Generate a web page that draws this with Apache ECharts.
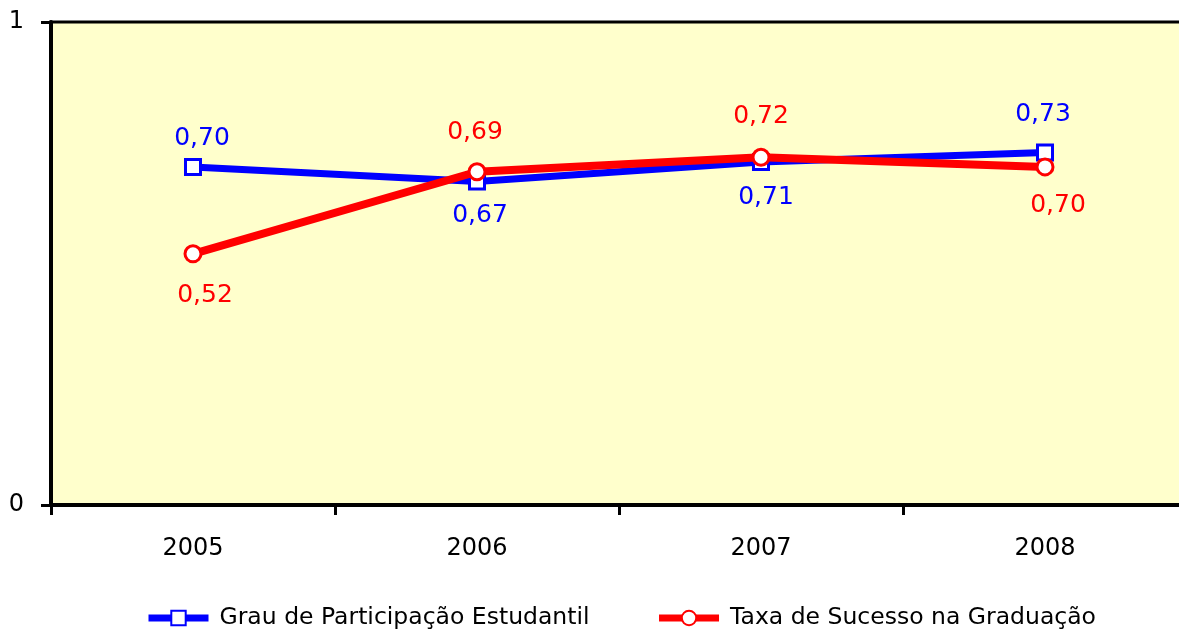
<!DOCTYPE html>
<html><head><meta charset="utf-8">
<script src="https://cdn.jsdelivr.net/npm/echarts@6/dist/echarts.min.js"></script>
<style>html,body{margin:0;padding:0;background:#fff;overflow:hidden;width:1179px;height:631px}#c{width:1195px;height:631px}</style>
</head><body><div id="c"></div>
<script>
const categories = ['2005', '2006', '2007', '2008'];
const seriesNames = ['Grau de Participação Estudantil', 'Taxa de Sucesso na Graduação'];
const grauValues = [0.70, 0.67, 0.71, 0.73];
const taxaValues = [0.52, 0.69, 0.72, 0.70];
const grauLabelPos = ['top', 'bottom', 'bottom', 'top'];
const taxaLabelPos = ['bottom', 'top', 'top', 'bottom'];

const fmt = v => v.toFixed(2).replace('.', ',');
const FONT = 'DejaVu Sans';

function mk(vals, pos, dist, dx) {
  return vals.map((v, i) => ({
    value: v,
    label: { position: pos[i], distance: dist[i], offset: [dx[i], 0] }
  }));
}

const chart = echarts.init(document.getElementById('c'));
chart.setOption({
  animation: false,
  grid: { left: 51, right: 8, top: 22, bottom: 126, show: true, backgroundColor: '#FFFFCC', borderColor: '#000', borderWidth: 3 },
  legend: {
    top: 601, left: 140, itemGap: 66, itemWidth: 60, itemHeight: 18,
    textStyle: { fontFamily: FONT, fontSize: 23.5, color: '#000', padding: [0, 0, 0, 6] },
    lineStyle: { width: 7 },
    data: seriesNames
  },
  xAxis: {
    type: 'category', data: categories, boundaryGap: true,
    axisLine: { lineStyle: { color: '#000', width: 4 } },
    axisTick: { show: true, length: 10, lineStyle: { color: '#000', width: 3 } },
    axisLabel: { fontFamily: FONT, fontSize: 24, color: '#000', margin: 32 },
    splitLine: { show: false }
  },
  yAxis: {
    type: 'value', min: 0, max: 1, interval: 1,
    axisLine: { show: true, lineStyle: { color: '#000', width: 4 } },
    axisTick: { show: true, length: 10, lineStyle: { color: '#000', width: 3 } },
    axisLabel: { fontFamily: FONT, fontSize: 24, color: '#000', margin: 27 },
    splitLine: { show: false }
  },
  series: [
    {
      name: seriesNames[0], type: 'line',
      data: mk(grauValues, grauLabelPos, [7, 13, 14, 16], [9, 3, 5, -2]),
      symbol: 'rect', symbolSize: 15,
      lineStyle: { color: '#0000FF', width: 7 },
      itemStyle: { color: '#fff', borderColor: '#0000FF', borderWidth: 3 },
      label: { show: true, formatter: p => fmt(p.value), color: '#0000FF', fontFamily: FONT, fontSize: 25 },
      z: 2
    },
    {
      name: seriesNames[1], type: 'line',
      data: mk(taxaValues, taxaLabelPos, [20, 17, 19, 17], [12, -2, 0, 13]),
      symbol: 'circle', symbolSize: 16,
      lineStyle: { color: '#FF0000', width: 8 },
      itemStyle: { color: '#fff', borderColor: '#FF0000', borderWidth: 3 },
      label: { show: true, formatter: p => fmt(p.value), color: '#FF0000', fontFamily: FONT, fontSize: 25 },
      z: 3
    }
  ]
});
</script></body></html>
